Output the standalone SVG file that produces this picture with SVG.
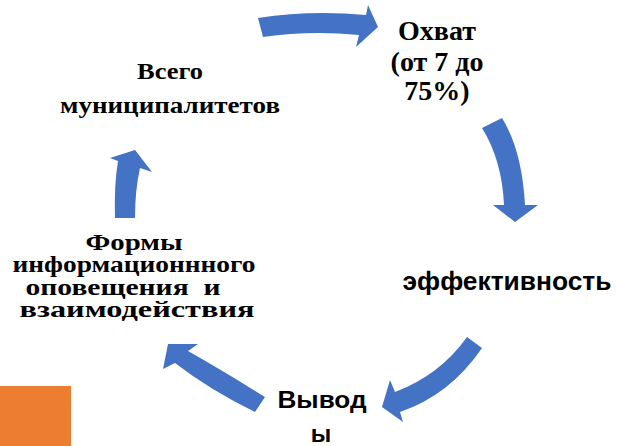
<svg xmlns="http://www.w3.org/2000/svg" width="621" height="446" viewBox="0 0 621 446">
<style>
.arr{fill:#4472C4;}
.serif{font-family:"Liberation Serif","Times New Roman",serif;font-weight:bold;fill:#000;text-anchor:middle;}
.sans{font-family:"Liberation Sans",Arial,sans-serif;font-weight:bold;fill:#000;text-anchor:middle;}
</style>
<rect width="621" height="446" fill="#fff"/>
<g id="connectors">
<path class="arr" d="M258,18 Q310,10 366,15 L368,5 L378,27 L356,47 L359,35 Q310,30 263,37 Z"/>
<path class="arr" d="M482,128 L502,118 Q522,150 525,205 L538,205 L515,222 L493,205 L504,205 Q502,160 482,128 Z"/>
<path class="arr" d="M467,337 L482,348 Q450,395 400,412 L403,422 L382,407 L390,380 L395,392 Q440,375 467,337 Z"/>
<path class="arr" d="M265,397 Q225,372 188,351 L198,344 L168,344 L163,369 L175,363 Q210,390 255,412 Z"/>
<path class="arr" d="M115,218 Q114,185 118,161 L110,158 L135,150 L152,172 L140,168 Q135,190 135,218 Z"/>
</g>
<g id="node-coverage">
<text class="serif" font-size="28" x="437" y="40">Охват</text>
<text class="serif" font-size="28" x="437" y="71">(от 7 до</text>
<text class="serif" font-size="28" x="437" y="100">75%)</text>
</g>
<g id="node-efficiency">
<text class="sans" font-size="25" x="507" y="290" textLength="209" lengthAdjust="spacingAndGlyphs">эффективность</text>
</g>
<g id="node-conclusions">
<text class="sans" font-size="24" x="322" y="408" textLength="89" lengthAdjust="spacingAndGlyphs">Вывод</text>
<text class="sans" font-size="24" x="321" y="442">ы</text>
</g>
<g id="node-forms">
<text class="serif" font-size="23" x="134" y="250" textLength="97" lengthAdjust="spacingAndGlyphs">Формы</text>
<text class="serif" font-size="23" x="134" y="272" textLength="243" lengthAdjust="spacingAndGlyphs">информационнного</text>
<text class="serif" font-size="23" x="123" y="295" textLength="195" lengthAdjust="spacingAndGlyphs" xml:space="preserve">оповещения  и</text>
<text class="serif" font-size="23" x="137" y="317" textLength="235" lengthAdjust="spacingAndGlyphs">взаимодействия</text>
</g>
<g id="node-municipalities">
<text class="serif" font-size="23" x="170" y="79" textLength="66" lengthAdjust="spacingAndGlyphs">Всего</text>
<text class="serif" font-size="23" x="170" y="113" textLength="220" lengthAdjust="spacingAndGlyphs">муниципалитетов</text>
</g>
<g id="marker-box">
<rect x="0" y="386" width="71" height="60" fill="#ED7D31"/>
</g>
</svg>
